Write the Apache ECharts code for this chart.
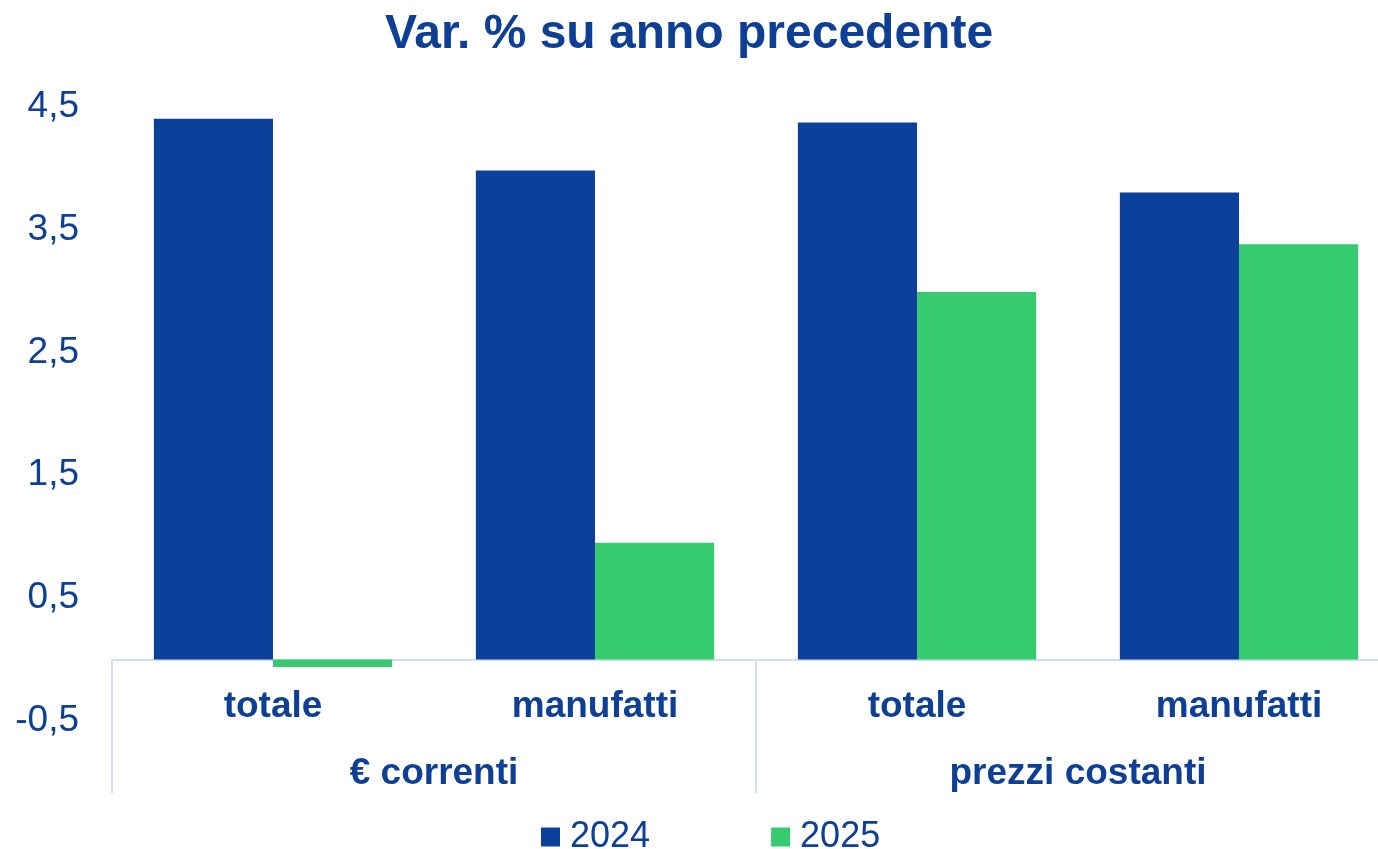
<!DOCTYPE html>
<html>
<head>
<meta charset="utf-8">
<script src="https://cdn.jsdelivr.net/npm/echarts@6/dist/echarts.min.js"></script>
<style>
  html, body { margin: 0; padding: 0; background: #fff; overflow: hidden; }
  #chart { width: 1378px; height: 849px; }
</style>
</head>
<body>
<div id="chart"></div>
<script>
const categories = ["totale", "manufatti", "totale", "manufatti"]
const groups = ["€ correnti", "prezzi costanti"]
const values2024 = [4.40, 3.98, 4.37, 3.80]
const values2025 = [-0.06, 0.95, 2.99, 3.38]
const yTicks = [-0.5, 0.5, 1.5, 2.5, 3.5, 4.5]

const textColor = "#0d3f95"
const lineColor = "#cddff9"
const font = "Liberation Sans, Arial, sans-serif"
const labelStyle = {color: textColor, fontSize: 37, fontWeight: "bold", fontFamily: font}

const chart = echarts.init(document.getElementById("chart"))
chart.setOption({
  animation: false,
  title: {
    text: "Var. % su anno precedente",
    left: "center",
    top: 6,
    textStyle: {color: textColor, fontSize: 48, fontWeight: "bold", fontFamily: font}
  },
  legend: {
    data: ["2024", "2025"],
    left: 536,
    top: 814,
    icon: "rect",
    itemWidth: 19,
    itemHeight: 19,
    itemGap: 121,
    textStyle: {color: textColor, fontSize: 36, fontFamily: font, padding: [0, 0, 0, 5]}
  },
  grid: {left: 112, right: -22, top: 106.5, bottom: 55.4, outerBoundsMode: "none", containLabel: false},
  xAxis: [
    {
      // zero line, carries the series
      type: "category",
      data: categories,
      axisLine: {onZero: true, lineStyle: {color: lineColor, width: 2}},
      axisTick: {show: false},
      axisLabel: {show: false}
    },
    {
      // category labels
      type: "category",
      position: "bottom",
      data: categories,
      axisLine: {show: false},
      axisTick: {show: false},
      axisLabel: {...labelStyle, inside: true, margin: 87, verticalAlign: "middle", interval: 0}
    },
    {
      // group labels and separators
      type: "category",
      position: "bottom",
      data: groups,
      axisLine: {show: false},
      axisTick: {show: true, inside: true, length: 134, lineStyle: {color: lineColor, width: 2}},
      axisLabel: {...labelStyle, inside: true, margin: 20, verticalAlign: "middle", interval: 0}
    }
  ],
  yAxis: {
    type: "value",
    min: -1.09,
    max: 4.5,
    axisLine: {show: false},
    axisTick: {show: false},
    splitLine: {show: false},
    axisLabel: {
      customValues: yTicks,
      color: textColor, fontSize: 37, fontFamily: font, margin: 33,
      padding: [6, 0, 0, 0],
      formatter: v => String(v).replace(".", ",")
    }
  },
  series: [
    {
      name: "2024", type: "bar", data: values2024,
      barGap: "0%", barCategoryGap: "26%",
      itemStyle: {color: "#0b419b"}
    },
    {
      name: "2025", type: "bar", data: values2025,
      barGap: "0%", barCategoryGap: "26%",
      itemStyle: {color: "#37cb6f"}
    }
  ]
})
</script>
</body>
</html>
